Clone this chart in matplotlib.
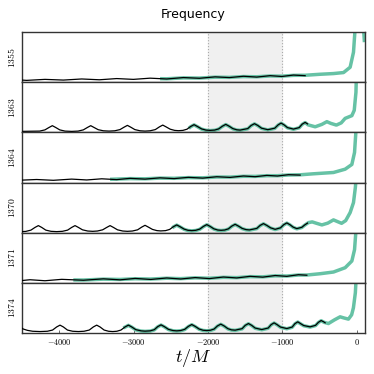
import matplotlib
matplotlib.use('Agg')
from matplotlib import pyplot as plt

plt.rcParams['mathtext.fontset'] = 'cm'

runs = ['1355', '1363', '1364', '1370', '1371', '1374']

# (t/M, frequency) points, NR data (black) and model (green), arbitrary freq units
nr_1355 = [(-4528, 2.3), (-4438, 1.9), (-4192, 2.9), (-3945, 2.2), (-3698, 3.3), (-3461, 2.5), (-3228, 3.7),
           (-3004, 2.9), (-2779, 4.1), (-2555, 3.3), (-2331, 4.7), (-2116, 4.0), (-1905, 5.4), (-1713, 4.7),
           (-1524, 6.0), (-1345, 5.2), (-1166, 6.6), (-1009, 5.8), (-852, 7.2), (-695, 6.6)]
fit_1355 = [(-2645, 3.6), (-2555, 3.5), (-2331, 4.4), (-2116, 4.2), (-1905, 5.1), (-1713, 4.9), (-1524, 5.7),
            (-1345, 5.5), (-1166, 6.3), (-1009, 6.1), (-852, 6.9), (-695, 7.0), (-493, 8.0), (-314, 8.7),
            (-179, 9.7), (-90, 15.0), (-45, 30.0), (-22, 55.0), (0, 80.0), (60, 80.0), (95, 48.0), (102, 40.0)]

nr_1363 = [(-4528, 1.0),
           (-4263, 1.3), (-4193, 2.5), (-4138, 4.9), (-4093, 6.7), (-4048, 4.9), (-3993, 2.5), (-3923, 1.3), (-3833, 1.0),
           (-3747, 1.3), (-3677, 2.5), (-3622, 4.9), (-3577, 6.7), (-3532, 4.9), (-3477, 2.7), (-3407, 1.6), (-3331, 1.3),
           (-3254, 1.6), (-3184, 2.8), (-3129, 5.2), (-3084, 7.0), (-3039, 5.2), (-2984, 2.8), (-2914, 1.6), (-2847, 1.3),
           (-2779, 1.6), (-2709, 2.8), (-2654, 5.5), (-2609, 7.3), (-2564, 5.5), (-2509, 3.2), (-2449, 2.0), (-2398, 1.7),
           (-2338, 2.0), (-2283, 3.2), (-2233, 5.9), (-2188, 7.7), (-2143, 5.9), (-2088, 3.5), (-2028, 2.3), (-1973, 2.0),
           (-1912, 2.3), (-1857, 3.5), (-1807, 6.2), (-1762, 8.0), (-1717, 6.2), (-1667, 3.8), (-1615, 2.6), (-1569, 2.3),
           (-1466, 3.8), (-1421, 6.9), (-1376, 8.7), (-1331, 6.9), (-1281, 4.2), (-1197, 2.7),
           (-1103, 4.2), (-1058, 7.5), (-1018, 9.3), (-978, 7.5), (-933, 4.8), (-852, 3.3),
           (-775, 4.8), (-735, 8.2), (-695, 10.0), (-663, 8.5)]
fit_1363 = [(-2260, 4.0), (-2233, 5.7), (-2188, 7.5), (-2143, 5.7), (-2088, 3.3), (-2028, 2.1), (-1973, 1.8),
            (-1912, 2.1), (-1857, 3.3), (-1807, 6.0), (-1762, 7.8), (-1717, 6.0), (-1667, 3.6), (-1615, 2.4), (-1569, 2.1),
            (-1466, 3.6), (-1421, 6.7), (-1376, 8.5), (-1331, 6.7), (-1281, 4.0), (-1197, 2.5),
            (-1103, 4.0), (-1058, 7.3), (-1018, 9.1), (-978, 7.3), (-933, 4.6), (-852, 3.1),
            (-775, 4.6), (-735, 8.0), (-695, 9.8), (-655, 7.5), (-560, 5.6), (-470, 8.0), (-403, 10.7), (-350, 9.0),
            (-275, 7.3), (-210, 9.5), (-157, 14.0), (-67, 16.7), (-35, 22.0), (-12, 40.0), (-5, 60.0), (0, 80.0)]

nr_1364 = [(-4528, 2.3), (-4304, 3.0), (-4080, 2.2), (-3833, 3.4), (-3631, 2.55), (-3429, 3.7), (-3228, 2.9),
           (-3048, 4.15), (-2847, 3.4), (-2645, 4.65), (-2457, 3.9), (-2264, 5.15), (-2071, 4.4), (-1883, 5.75),
           (-1704, 5.1), (-1524, 6.5), (-1367, 5.8), (-1210, 7.1), (-1067, 6.5), (-919, 7.8), (-762, 7.4)]
fit_1364 = [(-3317, 3.2), (-3048, 3.9), (-2847, 3.7), (-2645, 4.4), (-2457, 4.2), (-2264, 4.9), (-2071, 4.7),
            (-1883, 5.5), (-1704, 5.4), (-1524, 6.2), (-1367, 6.1), (-1210, 6.8), (-1067, 6.8), (-919, 7.5),
            (-762, 7.7), (-583, 8.7), (-314, 10.0), (-157, 13.3), (-67, 18.0), (-31, 30.0), (-9, 55.0), (0, 80.0)]

nr_1370 = [(-4528, 1.0), (-4451, 1.2),
           (-4381, 2.5), (-4326, 5.2), (-4281, 7.0), (-4236, 5.2), (-4181, 2.5), (-4111, 1.3), (-4035, 1.0),
           (-3958, 1.3), (-3888, 2.5), (-3833, 5.2), (-3788, 7.0), (-3743, 5.2), (-3688, 2.8), (-3618, 1.6), (-3551, 1.3),
           (-3487, 1.6), (-3417, 2.8), (-3362, 5.2), (-3317, 7.0), (-3272, 5.2), (-3217, 2.8), (-3147, 1.6), (-3084, 1.3),
           (-3017, 1.6), (-2947, 2.8), (-2892, 5.5), (-2847, 7.3), (-2802, 5.5), (-2747, 3.2), (-2687, 2.0), (-2636, 1.7),
           (-2571, 2.0), (-2516, 3.2), (-2466, 5.9), (-2421, 7.7), (-2376, 5.9), (-2321, 3.5), (-2269, 2.3), (-2219, 2.0),
           (-2167, 2.3), (-2112, 3.5), (-2062, 6.2), (-2017, 8.0), (-1972, 6.2), (-1922, 3.8), (-1870, 2.6), (-1825, 2.3),
           (-1776, 2.6), (-1726, 3.8), (-1681, 6.5), (-1636, 8.3), (-1591, 6.5), (-1541, 4.2), (-1489, 3.0), (-1444, 2.7),
           (-1345, 4.2), (-1300, 7.2), (-1255, 9.0), (-1210, 7.2), (-1160, 4.8), (-1098, 3.3),
           (-1026, 4.8), (-983, 7.9), (-941, 9.7), (-899, 7.9), (-856, 5.5), (-807, 4.0),
           (-740, 5.3), (-700, 7.7), (-663, 9.5)]
fit_1370 = [(-2480, 4.5), (-2466, 5.7), (-2421, 7.5), (-2376, 5.7), (-2321, 3.3), (-2269, 2.1), (-2219, 1.8),
            (-2167, 2.1), (-2112, 3.3), (-2062, 6.0), (-2017, 7.8), (-1972, 6.0), (-1922, 3.6), (-1870, 2.4), (-1825, 2.1),
            (-1776, 2.4), (-1726, 3.6), (-1681, 6.3), (-1636, 8.1), (-1591, 6.3), (-1541, 4.0), (-1489, 2.8), (-1444, 2.5),
            (-1345, 4.0), (-1300, 7.0), (-1255, 8.8), (-1210, 7.0), (-1160, 4.6), (-1098, 3.1),
            (-1026, 4.6), (-983, 7.7), (-941, 9.5), (-899, 7.7), (-856, 5.3), (-807, 3.8),
            (-740, 5.1), (-700, 7.5), (-650, 10.0), (-600, 10.7), (-550, 9.5), (-470, 7.7), (-390, 9.5), (-314, 12.7),
            (-260, 11.0), (-205, 9.3), (-150, 12.0), (-90, 20.0), (-45, 30.0), (-20, 45.0), (-9, 55.0), (0, 80.0)]

nr_1371 = [(-4528, 2.0), (-4393, 3.0), (-4192, 2.0), (-3967, 3.4), (-3676, 2.5), (-3407, 3.9), (-3183, 2.9),
           (-2981, 4.3), (-2770, 3.3), (-2555, 4.75), (-2367, 3.75), (-2174, 5.15), (-1982, 4.15), (-1793, 5.7),
           (-1614, 4.8), (-1435, 6.4), (-1264, 5.6), (-1098, 7.2), (-941, 6.4), (-785, 8.0), (-672, 7.5)]
fit_1371 = [(-3811, 2.8), (-3676, 2.7), (-3407, 3.6), (-3183, 3.3), (-2981, 4.0), (-2770, 3.7), (-2555, 4.5),
            (-2367, 4.1), (-2174, 4.9), (-1982, 4.5), (-1793, 5.4), (-1614, 5.1), (-1435, 6.1), (-1264, 5.9),
            (-1098, 6.9), (-941, 6.7), (-785, 7.7), (-672, 7.7), (-493, 9.0), (-314, 10.7), (-157, 15.0),
            (-67, 21.7), (-31, 33.0), (-9, 55.0), (0, 80.0)]

nr_1374 = [(-4528, 6.0), (-4483, 3.8), (-4428, 2.5), (-4358, 1.6), (-4259, 1.3),
           (-4160, 1.6), (-4090, 2.8), (-4035, 5.9), (-3990, 7.7), (-3945, 5.9), (-3890, 2.8), (-3820, 1.6), (-3743, 1.3),
           (-3667, 1.6), (-3597, 2.8), (-3542, 5.9), (-3497, 7.7), (-3452, 5.9), (-3397, 2.8), (-3337, 1.6), (-3282, 1.3),
           (-3226, 1.6), (-3171, 2.8), (-3116, 5.9), (-3071, 7.7), (-3026, 5.9), (-2971, 3.2), (-2901, 2.0), (-2847, 1.7),
           (-2777, 2.0), (-2722, 3.2), (-2677, 6.2), (-2632, 8.0), (-2587, 6.2), (-2532, 3.5), (-2472, 2.3), (-2421, 2.0),
           (-2369, 2.3), (-2314, 3.5), (-2264, 6.5), (-2219, 8.3), (-2174, 6.5), (-2119, 3.8), (-2067, 2.6), (-2017, 2.3),
           (-1969, 2.6), (-1919, 3.8), (-1874, 6.9), (-1829, 8.7), (-1784, 6.9), (-1734, 4.2), (-1686, 3.0), (-1636, 2.7),
           (-1542, 4.2), (-1500, 7.5), (-1457, 9.3), (-1414, 7.5), (-1367, 4.8), (-1278, 3.3),
           (-1192, 4.8), (-1152, 8.2), (-1112, 10.0), (-1072, 8.2), (-1027, 5.8), (-941, 4.3),
           (-869, 5.8), (-832, 9.2), (-794, 11.0), (-756, 9.2), (-714, 7.3), (-628, 6.0),
           (-555, 7.5), (-517, 10.5), (-480, 12.3), (-445, 11.0), (-426, 10.0)]
fit_1374 = [(-3140, 5.0), (-3116, 5.7), (-3071, 7.5), (-3026, 5.7), (-2971, 3.0), (-2901, 1.8), (-2847, 1.5),
            (-2777, 1.8), (-2722, 3.0), (-2677, 6.0), (-2632, 7.8), (-2587, 6.0), (-2532, 3.3), (-2472, 2.1), (-2421, 1.8),
            (-2369, 2.1), (-2314, 3.3), (-2264, 6.3), (-2219, 8.1), (-2174, 6.3), (-2119, 3.6), (-2067, 2.4), (-2017, 2.1),
            (-1969, 2.4), (-1919, 3.6), (-1874, 6.7), (-1829, 8.5), (-1784, 6.7), (-1734, 4.0), (-1686, 2.8), (-1636, 2.5),
            (-1542, 4.0), (-1500, 7.3), (-1457, 9.1), (-1414, 7.3), (-1367, 4.6), (-1278, 3.1),
            (-1192, 4.6), (-1152, 8.0), (-1112, 9.8), (-1072, 8.0), (-1027, 5.6), (-941, 4.1),
            (-869, 5.6), (-832, 9.0), (-794, 10.8), (-756, 9.0), (-714, 7.1), (-628, 5.8),
            (-555, 7.3), (-517, 10.3), (-480, 12.1), (-440, 10.5), (-382, 9.3), (-300, 13.0), (-225, 16.0),
            (-170, 14.8), (-113, 13.7), (-70, 18.0), (-46, 25.0), (-20, 40.0), (-9, 55.0), (0, 80.0)]

nr = [nr_1355, nr_1363, nr_1364, nr_1370, nr_1371, nr_1374]
fit = [fit_1355, fit_1363, fit_1364, fit_1370, fit_1371, fit_1374]

xticks = [-4000, -3000, -2000, -1000, 0]

fig, axes = plt.subplots(6, 1, figsize=(3.74, 3.74), dpi=100, sharex=True)
fig.subplots_adjust(left=0.059, right=0.976, top=0.914, bottom=0.110, hspace=0)

for i, ax in enumerate(axes):
    ax.axvspan(-2000, -1000, color='#f0f0f0', zorder=0)
    ax.axvline(-2000, color='#aaaaaa', ls=':', lw=0.8, zorder=1)
    ax.axvline(-1000, color='#aaaaaa', ls=':', lw=0.8, zorder=1)
    tf, ff = zip(*fit[i])
    ax.plot(tf, ff, color='#66c2a5', lw=2.5, zorder=2, solid_capstyle='butt')
    tn, fn = zip(*nr[i])
    ax.plot(tn, fn, color='k', lw=0.9, zorder=3)
    ax.set_xlim(-4500, 110)
    ax.set_ylim(0, 50)
    ax.set_yticks([])
    ax.set_ylabel('$' + runs[i] + '$', fontsize=7, labelpad=4)
    for s in ax.spines.values():
        s.set_color('#333333')
        s.set_linewidth(1.0)
    ax.tick_params(axis='x', length=0)

axes[0].set_title('Frequency', fontsize=9, pad=10)
axes[-1].set_xticks(xticks)
axes[-1].set_xticklabels(['$' + str(v) + '$' for v in xticks], fontsize=6)
axes[-1].tick_params(axis='x', direction='in', length=2.5, width=0.6, color='#555555', pad=3)
axes[-1].set_xlabel('$t/M$', fontsize=13, labelpad=0)

plt.savefig('out.png', dpi=100)
